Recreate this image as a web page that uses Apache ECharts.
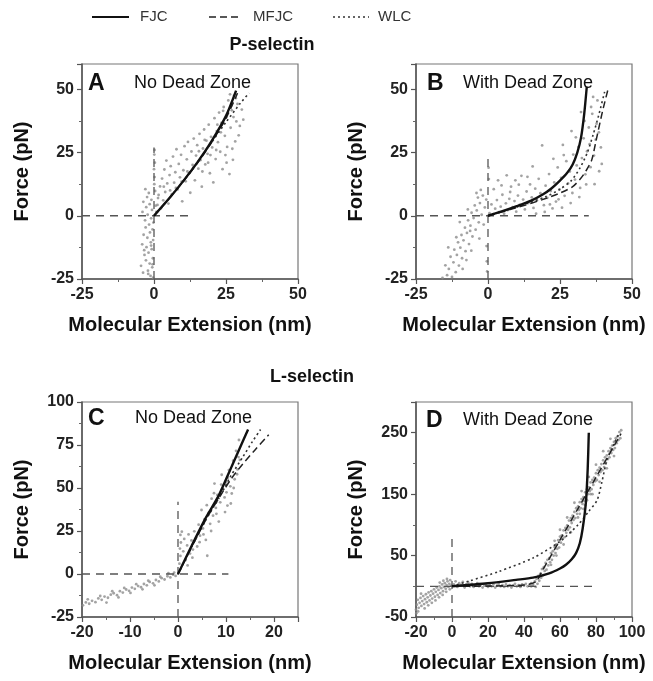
<!DOCTYPE html>
<html>
<head>
<meta charset="utf-8">
<script src="https://cdn.jsdelivr.net/npm/echarts@6/dist/echarts.min.js"></script>
<style>html,body{margin:0;padding:0;background:#fff;}#c{width:653px;height:681px;}</style>
</head>
<body>
<div id="c"></div>
<script>
// ---------- Legend / texts ----------
const legendNames = ['FJC', 'MFJC', 'WLC'];
const groupTitles = ['P-selectin', 'L-selectin'];
const panelLetters = ['A', 'B', 'C', 'D'];
const panelNotes = ['No Dead Zone', 'With Dead Zone', 'No Dead Zone', 'With Dead Zone'];
const xName = 'Molecular Extension (nm)';
const yName = 'Force (pN)';

// ---------- Axis ranges [min, max, interval] ----------
const xRangeA = [-25, 50, 25];
const yRangeA = [-25, 60, 25];
const xRangeB = [-25, 50, 25];
const yRangeB = [-25, 60, 25];
const xRangeC = [-20, 25, 10];
const yRangeC = [-25, 100, 25];
const xRangeD = [-20, 100, 20];
const yRangeD = [-50, 300, 100];

// ---------- Panel A (P-selectin, no dead zone) ----------
const scatterA = [[-0.3,-24.5],[-1.2,-23.8],[-3.8,-22.5],[-2.1,-21.7],[-0.6,-20.4],[-4.5,-19.8],[-1.5,-18.9],[-2.8,-17.6],[-0.4,-16.8],[-3.3,-15.5],[-1.9,-14.6],[-0.8,-13.2],[-2.6,-12.4],[-4.1,-11.3],[-1.1,-10.5],[-0.3,-9.6],[-2.3,-8.7],[-3.6,-7.5],[-1.4,-6.6],[-0.5,-5.4],[-2.9,-4.6],[-1.7,-3.5],[-0.2,-2.7],[-3.1,-1.8],[-1.0,-1.0],[-2.2,0.4],[-4.0,1.5],[-0.7,2.3],[-2.7,3.4],[-1.5,4.6],[-3.7,5.5],[-0.9,6.3],[-2.4,7.4],[-1.8,9.0],[-3.0,10.5],[-0.5,-19.2],[-2.0,-23.0],[-1.0,-11.8],[-3.4,-13.6],
[0.1,12.5],[0.2,15.3],[0,18.4],[0.3,21.0],[0.1,24.2],[0.2,26.0],[0.4,9.8],
[0.8,1.5],[1.2,4.3],[1.6,8.2],[2.1,11.6],[2.4,2.9],[2.8,14.7],[3.2,6.1],[3.6,18.3],[3.9,9.4],[4.3,21.8],[4.6,12.8],[5.0,4.8],[5.4,16.1],[5.8,19.6],[6.2,8.5],[6.6,23.4],[7.0,13.1],[7.4,17.2],[7.8,26.3],[8.2,10.4],[8.6,20.5],[9.0,15.2],[9.4,24.1],[9.8,5.7],[10.2,18.0],[10.6,27.5],[11.0,13.6],[11.4,22.3],[11.8,29.2],[12.2,16.7],[12.6,9.1],[13.0,25.4],[13.4,20.1],[13.8,30.5],[14.2,14.0],[14.6,23.8],[15.0,27.9],[15.4,18.6],[15.8,32.4],[16.2,22.0],[16.6,11.5],[17.0,26.6],[17.4,34.1],[17.8,20.3],[18.2,29.7],[18.6,24.5],[19.0,36.0],[19.4,16.8],[19.8,31.2],[20.2,27.0],[20.6,13.2],[21.0,38.6],[21.4,22.4],[21.8,33.5],[22.2,29.1],[22.6,40.8],[23.0,25.3],[23.4,36.7],[23.8,18.4],[24.2,43.0],[24.6,31.6],[25.0,38.9],[25.4,27.2],[25.8,45.6],[26.2,16.5],[26.6,34.8],[27.0,41.7],[27.4,22.1],[27.8,47.5],[28.2,29.4],[28.6,37.3],[29.0,44.2],[29.4,31.8],[29.8,35.5],[26.4,48.0],[25.2,21.0],[23.2,33.0],[21.6,26.0],[19.6,24.0],[17.6,30.0],[15.6,25.5],[13.6,19.0],[11.6,17.5],[9.6,13.5],[7.6,11.0],[5.6,10.0],[3.4,11.5],[1.4,7.0],[0.6,4.0],[27.6,39.0],[24.0,41.5],[22.0,36.0],[28.4,46.5],[26.8,43.5],[31.0,38.0],[30.5,42.0],[27.2,26.5],[24.8,24.0],[18.8,21.0],[16.8,17.5]];
const fjcA = [[0,0],[5,6.5],[10,13.5],[15,21],[20,29.5],[25,39.5],[28.5,49.5]];
const mfjcA = [[0,0],[5,6.4],[10,13.3],[15,20.7],[20,29],[25,38.5],[29,48.5]];
const wlcA = [[0,0],[5,6.5],[10,13.5],[15,21],[20,29],[25,37],[30,44.5],[33,48.5]];
const hRefA = [[-25,0],[13,0]];
const vRefA = [[0,-25],[0,27]];

// ---------- Panel B (P-selectin, with dead zone) ----------
const scatterB = [[-15.8,-24.6],[-14.2,-23.5],[-12.5,-24.2],[-13.6,-21.0],[-11.2,-22.3],[-14.8,-19.6],[-12.0,-18.4],[-10.1,-19.7],[-13.0,-16.2],[-10.8,-15.5],[-9.0,-16.8],[-11.7,-13.4],[-9.6,-12.6],[-7.8,-14.0],[-10.4,-10.5],[-8.5,-9.7],[-6.6,-11.2],[-9.2,-7.6],[-7.3,-6.8],[-5.4,-8.2],[-8.0,-4.7],[-6.1,-3.9],[-4.3,-5.5],[-6.9,-1.8],[-5.0,-0.9],[-3.2,-2.6],[-5.7,1.2],[-3.9,2.1],[-2.2,0.4],[-4.6,4.1],[-2.8,5.0],[-1.1,3.3],[-3.5,7.2],[-1.8,8.0],[-0.6,6.4],[-2.5,10.2],[-4.0,9.0],[-7.5,-17.5],[-11.0,-8.5],[-5.8,-13.8],[-13.8,-12.5],[-8.8,-21.0],[-6.2,-6.0],[-3.0,-9.0],[-1.5,-3.5],[-0.5,-12.0],[-0.4,-18.0],[-0.3,-22.0],[-7.0,2.5],[-9.8,-2.5],
[0.5,1.0],[1.2,4.5],[1.8,0.6],[2.5,2.8],[3.1,6.2],[3.8,1.4],[4.4,3.6],[5.0,8.3],[5.6,0.8],[6.2,4.9],[6.8,2.2],[7.4,6.7],[8.0,11.5],[8.6,3.4],[9.2,5.8],[9.8,1.6],[10.4,8.0],[11.0,4.3],[11.6,15.8],[12.2,6.4],[12.8,2.5],[13.4,9.6],[14.0,5.0],[14.6,12.4],[15.2,7.3],[15.8,3.1],[16.4,10.7],[17.0,6.0],[17.6,14.6],[18.2,8.9],[18.8,27.8],[19.4,4.2],[20.0,11.9],[20.6,7.1],[21.2,16.5],[21.8,9.8],[22.4,2.9],[23.0,13.2],[23.6,5.6],[24.2,19.1],[24.8,10.4],[25.4,15.0],[26.0,28.0],[26.6,7.9],[27.2,21.6],[27.8,12.8],[28.4,17.5],[29.0,33.5],[29.6,24.2],[30.2,14.3],[30.8,19.9],[31.4,27.2],[32.0,11.0],[32.6,22.8],[33.2,30.6],[33.8,16.4],[34.4,25.5],[35.0,34.9],[35.6,19.2],[36.2,40.3],[36.8,23.8],[37.4,30.1],[38.0,45.6],[38.6,17.6],[39.2,27.0],[37.7,36.4],[36.5,47.0],[35.3,28.3],[34.1,12.4],[31.7,7.4],[28.7,5.0],[25.7,3.2],[19.7,1.5],[16.7,0.8],[13.7,15.4],[10.7,12.3],[7.7,9.4],[4.7,12.0],[2.0,10.5],[0.3,14.5],[0.2,19.0],[22.7,22.5],[30.5,31.0],[33.5,37.5],[37.0,12.5],[38.5,33.0],[26.3,24.0],[24.5,6.5],[21.5,4.5],[29.3,9.0],[35.8,43.0],[32.3,41.0],[39.5,20.5],[15.5,19.5],[9.5,14.0],[6.5,16.0],[3.5,14.0]];
const fjcB = [[0,0],[5,1.8],[10,3.8],[15,6],[19,8.4],[22,10.8],[24.8,13.7],[27.5,17],[29.4,20.3],[31,25],[32.3,30.9],[33.4,40.2],[34.3,51]];
const mfjcB = [[0,0],[10,3.2],[20,6.8],[25,9],[29.4,11.5],[32,14.5],[34,17.7],[36,22],[37.5,29.6],[39.8,41.5],[41.9,51]];
const wlcB = [[0,0],[10,3.5],[20,7.5],[25,10.5],[29,14],[32,19],[34.5,25],[36.5,32],[38.5,40],[40.5,49]];
const hRefB = [[-25,0],[35,0]];
const vRefB = [[0,-25],[0,23]];

// ---------- Panel C (L-selectin, no dead zone) ----------
const scatterC = [[-19.8,-18.2],[-19.2,-16.5],[-18.5,-17.3],[-17.9,-15.6],[-17.2,-16.4],[-16.6,-14.2],[-15.9,-15.0],[-15.3,-13.1],[-14.6,-13.8],[-14.0,-12.0],[-13.4,-11.2],[-12.7,-12.3],[-12.1,-10.0],[-11.5,-10.8],[-10.8,-9.0],[-10.2,-9.8],[-9.6,-7.9],[-9.0,-8.6],[-8.3,-7.0],[-7.7,-7.7],[-7.1,-5.8],[-6.5,-6.6],[-5.9,-4.6],[-5.2,-5.4],[-4.6,-3.5],[-4.0,-4.3],[-3.4,-2.4],[-2.8,-3.2],[-2.2,-1.3],[-1.6,-2.0],[-1.0,-0.4],[-0.5,-1.1],[-3.7,-1.6],[-6.2,-3.9],[-8.7,-5.9],[-11.2,-8.1],[-13.7,-10.0],[-16.2,-12.8],[-18.8,-14.7],[-2.0,0.5],[-0.8,0.8],[-4.9,-6.6],[-7.4,-8.9],[-9.9,-11.0],[-12.4,-13.6],[-14.9,-16.6],
[0.3,6.0],[0.5,10.5],[0.4,14.8],[0.6,18.3],[0.5,22.7],[0.8,24.6],[1.1,13.2],[1.3,20.4],[1.6,8.1],[1.9,16.6],[2.2,23.0],[2.5,11.9],[2.8,19.5],[3.1,14.2],[3.4,24.8],[3.7,20.6],[4.0,16.0],[4.3,28.7],[4.6,22.3],[4.9,37.2],[5.2,26.5],[5.5,31.8],[5.8,19.8],[6.1,10.6],[6.4,35.6],[6.7,29.2],[7.0,43.8],[7.3,33.9],[7.6,52.6],[7.9,38.4],[8.2,46.0],[8.5,30.5],[8.8,41.7],[9.1,57.7],[9.4,49.3],[9.7,44.5],[10.0,53.2],[10.3,39.8],[10.6,60.4],[10.9,51.0],[11.2,46.8],[11.5,65.9],[11.8,55.1],[12.1,71.6],[12.4,60.8],[12.7,77.9],[12.9,66.3],[10.1,47.5],[8.0,35.0],[6.9,25.0],[5.3,23.0],[9.8,36.0],[11.0,41.0],[12.3,58.0],[7.5,47.0],[6.0,40.0],[2.0,5.0],[3.0,9.5],[4.5,18.5],[9.0,52.0],[11.6,50.0],[12.6,68.0],[10.4,56.0]];
const fjcC = [[0,0],[2.9,16.7],[5.7,32.2],[8.5,45.7],[11.25,63],[13,74],[14.6,84]];
const mfjcC = [[0,0],[5.7,31],[8.5,44],[11,55],[13.5,64],[16,72],[18.9,81]];
const wlcC = [[0,0],[5.7,31],[8.5,44],[11,57],[13.5,68],[15.5,77],[17.2,84]];
const hRefC = [[-20,0],[10.5,0]];
const vRefC = [[0,-25],[0,42]];

// ---------- Panel D (L-selectin, with dead zone) ----------
const scatterD = [[-20,-38],[-19.5,-30],[-19,-22],[-18.5,-35],[-18,-27],[-17.5,-19],[-17,-32],[-16.5,-24],[-16,-16],[-15.5,-29],[-15,-21],[-14.5,-13],[-14,-26],[-13.5,-18],[-13,-10],[-12.5,-23],[-12,-15],[-11.5,-8],[-11,-20],[-10.5,-12],[-10,-5],[-9.5,-17],[-9,-9],[-8.5,-2],[-8,-14],[-7.5,-6],[-7,0],[-6.5,-11],[-6,-3],[-5.5,3],[-5,-8],[-4.5,-1],[-4,5],[-3.5,-4],[-3,2],[-2.5,8],[-2,-1],[-1.5,4],[-1,10],[-0.5,1],[-19.8,-44],[-18.8,-41],[-17.2,-12],[-15.2,-36],[-13.2,-31],[-11.2,-27],[-9.2,-23],[-7.2,-18],[-5.2,-14],[-3.2,-9],[-1.2,-5],[-2.8,12],[-4.8,9],[-6.8,6],
[1,3],[2,8],[3,-1],[4,5],[5,1],[6,7],[7,-2],[8,3],[9,6],[10,0],[11,4],[12,-1],[13,2],[14,5],[15,0],[16,3],[17,-2],[18,1],[19,4],[20,-1],[21,2],[22,0],[23,3],[24,-2],[25,1],[26,4],[27,0],[28,2],[29,-1],[30,3],[31,0],[32,2],[33,-2],[34,1],[35,4],[36,0],[37,2],[38,-1],[39,3],[40,1],[41,4],[42,0],[43,2],[44,5],[45,1],
[44,0],[45,3],[46,8],[46.5,-1],[47,12],[47.5,4],[48,17],[48.5,9],[49,20],[49.5,14],[50,28],[50.5,18],[51,31],[51.5,25],[52,38],[52.5,27],[53,43],[53.5,34],[54,46],[54.5,39],[55,54],[55.5,43],[56,57],[56.5,50],[57,64],[57.5,54],[58,68],[58.5,61],[59,75],[59.5,63],[60,81],[60.5,71],[61,83],[61.5,77],[62,91],[62.5,80],[63,95],[63.5,87],[64,99],[64.5,92],[65,107],[65.5,96],[66,111],[66.5,103],[67,115],[67.5,108],[68,121],[68.5,111],[69,127],[69.5,118],[70,130],[70.5,124],[71,137],[71.5,127],[72,142],[72.5,134],[73,145],[73.5,139],[74,153],[74.5,142],[75,158],[75.5,150],[76,161],[76.5,155],[77,169],[77.5,158],[78,173],[78.5,165],[79,177],[79.5,171],[80,184],[80.5,173],[81,189],[81.5,181],[82,193],[82.5,186],[83,199],[83.5,189],[84,205],[84.5,194],[85,210],[85.5,201],[86,213],[86.5,207],[87,220],[87.5,210],[88,225],[88.5,217],[89,229],[89.5,222],[90,235],[90.5,225],[91,241],[91.5,233],[92,244],[92.5,238],[93,251],[93.5,241],[94,254],
[55,35],[58,50],[62,68],[66,88],[70,112],[74,132],[78,150],[82,170],[86,192],[90,212],[57,74],[60,92],[64,112],[68,136],[72,155],[76,178],[80,198],[84,220],[88,240],[71,118],[73,126],[75,140],[77,150]];
const fjcD = [[0,0],[20,5],[35.6,10.5],[45,14],[54,21],[60,29],[63.3,35],[66.5,44],[68.9,54],[71,70],[72.6,94],[74.4,137],[75.4,192],[76,250]];
const mfjcD = [[0,0],[20,0.5],[40,2],[46.7,7.6],[50,24.4],[60,75.4],[70,126.4],[80,177.4],[90,228.4],[93.9,248.6]];
const wlcD = [[0,0],[10,9],[26,24],[45,46],[60,73],[70,100],[76,122],[80.6,140],[83.3,170],[86,205],[90,232],[93,250]];
const hRefD = [[-20,0],[80,0]];
const vRefD = [[0,-50],[0,78]];

// ---------- Build ----------
const FONT = '"Liberation Sans", Arial, sans-serif';
const gridBoxes = [[82, 64], [416, 64], [82, 402], [416, 402]];
const grids = gridBoxes.map(b => ({left: b[0], top: b[1], width: 216, height: 215, show: true, borderColor: '#777', borderWidth: 1.2, backgroundColor: 'transparent', containLabel: false}));

function axis(range, gridIndex, isX) {
  const maxOnTick = ((range[1] - range[0]) % range[2]) === 0;
  return {
    type: 'value', gridIndex: gridIndex,
    min: range[0], max: range[1], interval: range[2],
    name: isX ? xName : yName,
    nameLocation: 'middle',
    nameGap: isX ? 36 : 50,
    nameTextStyle: {fontFamily: FONT, fontSize: 20, fontWeight: 'bold', color: '#111'},
    axisLine: {show: true, onZero: false, lineStyle: {color: '#555', width: 1.5}},
    axisTick: {show: true, inside: false, length: 5, lineStyle: {color: '#555', width: 1.2}},
    minorTick: {show: true, splitNumber: 2, length: 3, lineStyle: {color: '#666', width: 1}},
    splitLine: {show: false},
    axisLabel: {fontFamily: FONT, fontSize: 16, fontWeight: 'bold', color: '#222', margin: 8, showMaxLabel: maxOnTick}
  };
}
const xAxes = [axis(xRangeA,0,true), axis(xRangeB,1,true), axis(xRangeC,2,true), axis(xRangeD,3,true)];
const yAxes = [axis(yRangeA,0,false), axis(yRangeB,1,false), axis(yRangeC,2,false), axis(yRangeD,3,false)];

const STY_FJC = {color: '#111', width: 2.4, type: 'solid'};
const STY_MFJC = {color: '#222', width: 1.5, type: [7, 4]};
const STY_WLC = {color: '#333', width: 1.6, type: [2, 3]};

const panels = [
  [scatterA, fjcA, mfjcA, wlcA, hRefA, vRefA],
  [scatterB, fjcB, mfjcB, wlcB, hRefB, vRefB],
  [scatterC, fjcC, mfjcC, wlcC, hRefC, vRefC],
  [scatterD, fjcD, mfjcD, wlcD, hRefD, vRefD]
];
const series = [];
panels.forEach((p, i) => {
  const base = {xAxisIndex: i, yAxisIndex: i, silent: true, animation: false};
  series.push(Object.assign({type: 'scatter', data: p[0], symbol: 'circle', symbolSize: 2.8, itemStyle: {color: '#8c8c8c'}, z: 1}, base));
  [p[4], p[5]].forEach(r => series.push(Object.assign({type: 'line', data: r, symbol: 'none', lineStyle: {color: '#555', width: 1.3, type: [8, 6]}, z: 2}, base)));
  series.push(Object.assign({type: 'line', name: legendNames[2], data: p[3], symbol: 'none', smooth: 0.25, lineStyle: STY_WLC, z: 3}, base));
  series.push(Object.assign({type: 'line', name: legendNames[1], data: p[2], symbol: 'none', smooth: 0.25, lineStyle: STY_MFJC, z: 4}, base));
  series.push(Object.assign({type: 'line', name: legendNames[0], data: p[1], symbol: 'none', smooth: 0.25, lineStyle: STY_FJC, z: 5}, base));
});

const txt = (x, y, t, size, weight, align, fill) => ({type: 'text', x: x, y: y, silent: true, style: {text: t, fontFamily: FONT, fontSize: size, fontWeight: weight, fill: fill || '#111', align: align || 'left', verticalAlign: 'middle'}});
const seg = (x1, x2, y, st) => ({type: 'line', silent: true, shape: {x1: x1, y1: y, x2: x2, y2: y}, style: {stroke: st.color, lineWidth: st.type === 'solid' ? 2 : st.width, lineDash: st.type === 'solid' ? null : st.type}});
const graphic = [
  // legend
  seg(92, 129, 17, STY_FJC), txt(140, 17, legendNames[0], 15, 'normal', 'left', '#333'),
  seg(209, 240, 17, STY_MFJC), txt(253, 17, legendNames[1], 15, 'normal', 'left', '#333'),
  seg(333, 369, 17, STY_WLC), txt(378, 17, legendNames[2], 15, 'normal', 'left', '#333'),
  // group titles
  txt(272, 45, groupTitles[0], 18, 'bold', 'center'),
  txt(312, 377, groupTitles[1], 18, 'bold', 'center'),
  // panel labels
  txt(88, 84, panelLetters[0], 23, 'bold'),
  txt(134, 83, panelNotes[0], 18, 'normal'),
  txt(427, 84, panelLetters[1], 23, 'bold'),
  txt(463, 83, panelNotes[1], 18, 'normal'),
  txt(88, 419, panelLetters[2], 23, 'bold'),
  txt(135, 418, panelNotes[2], 18, 'normal'),
  txt(426, 421, panelLetters[3], 23, 'bold'),
  txt(463, 420, panelNotes[3], 18, 'normal')
];

const chart = echarts.init(document.getElementById('c'), null, {renderer: 'canvas'});
chart.setOption({
  backgroundColor: '#fff',
  animation: false,
  grid: grids,
  xAxis: xAxes,
  yAxis: yAxes,
  series: series,
  graphic: graphic
});
</script>
</body>
</html>
